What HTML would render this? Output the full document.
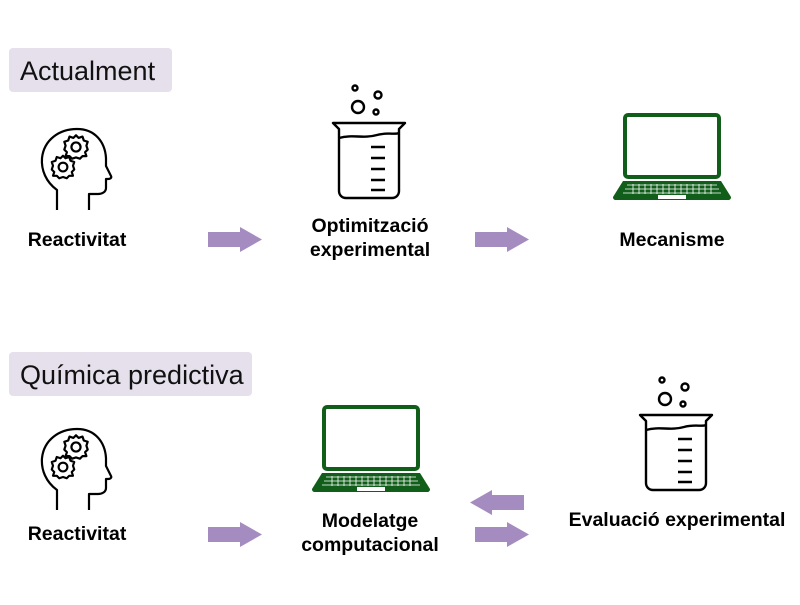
<!DOCTYPE html>
<html><head><style>
body{margin:0;background:#fff;}
svg text{font-family:"Liberation Sans",Arial,sans-serif;}
</style></head><body>
<svg width="800" height="600" viewBox="0 0 800 600" xmlns="http://www.w3.org/2000/svg">
<defs>
<path id="gear" d="M0-9 L2-7 5-8 6-5 9-4 8-1 9 2 7 4 8 7 5 7 3 9 0 8 -3 9 -5 7 -8 7 -7 4 -9 2 -8-1 -9-4 -6-5 -5-8 -2-7Z"/>
<g id="head" fill="none" stroke="#000" stroke-width="2.2" stroke-linejoin="round">
  <path d="M16 82 V62 C5 54 0 42 1 30 C3 12 18 1 36 1 C54 1 64 14 65 30 L65 38 L70 48 C71 50 69 51 67 51 L65 51 L65 60 C65 64 61 66 57 66 L48 66 L48 82"/>
  <g transform="translate(35,19) scale(1.3)" stroke-width="1.7"><circle r="3.5"/><use href="#gear"/></g>
  <g transform="translate(22,39) scale(1.25)" stroke-width="1.7"><circle r="3.5"/><use href="#gear"/></g>
</g>
<g id="beaker" fill="none" stroke="#000" stroke-width="2.4" stroke-linejoin="round">
  <circle cx="22" cy="5" r="2.5"/><circle cx="45" cy="12" r="3.5"/><circle cx="25" cy="24" r="6"/><circle cx="43" cy="29" r="2.5"/>
  <path d="M0 40 H72 L66 46 V108 C66 112 63 115 59 115 H13 C9 115 6 112 6 108 V46 Z"/>
  <path d="M6 55 C20 51 30 56 44 52 C55 49 62 52 66 50"/>
  <path d="M38 64 H52 M38 75 H52 M38 86 H52 M38 97 H52 M38 107 H52"/>
</g>
<g id="laptop">
  <rect x="12" y="2" width="94" height="62" rx="3" fill="none" stroke="#115e1a" stroke-width="4"/>
  <path d="M10 68 H108 L118 84 C118 86 117 87 115 87 H3 C1 87 0 86 0 84 Z" fill="#115e1a"/>
  <g stroke="#fff" stroke-width="0.8">
    <path d="M14 72 H104 M12 76 H106 M10 80 H108"/>
    <path d="M20 71 V81 M26 71 V81 M32 71 V81 M38 71 V81 M44 71 V81 M50 71 V81 M56 71 V81 M62 71 V81 M68 71 V81 M74 71 V81 M80 71 V81 M86 71 V81 M92 71 V81 M98 71 V81"/>
  </g>
  <rect x="45" y="82" width="28" height="4" fill="#fff"/>
</g>
<path id="arr" d="M0 5 H32 V0 L54 12.5 L32 25 V20 H0 Z" fill="#a58cc0"/>
</defs>

<rect x="9" y="48" width="163" height="44" rx="4" fill="#e6e0ec"/>
<text x="20" y="80" font-size="27" fill="#111">Actualment</text>
<rect x="9" y="352" width="243" height="44" rx="4" fill="#e6e0ec"/>
<text x="20" y="384" font-size="27" fill="#111">Química predictiva</text>

<use href="#head" x="41" y="128"/>
<use href="#beaker" x="333" y="83"/>
<use href="#laptop" x="613" y="113"/>

<g font-size="19.5" font-weight="bold" text-anchor="middle" fill="#000">
<text x="77" y="246">Reactivitat</text>
<text x="370" y="232">Optimització</text>
<text x="370" y="256">experimental</text>
<text x="672" y="246">Mecanisme</text>
<text x="77" y="540">Reactivitat</text>
<text x="370" y="527">Modelatge</text>
<text x="370" y="551">computacional</text>
<text x="677" y="526">Evaluació experimental</text>
</g>

<use href="#arr" x="208" y="227"/>
<use href="#arr" x="475" y="227"/>

<use href="#head" x="41" y="428"/>
<use href="#laptop" x="312" y="405"/>
<use href="#beaker" x="640" y="375"/>

<use href="#arr" x="208" y="522"/>
<use href="#arr" x="475" y="522"/>
<use href="#arr" transform="translate(524,490) scale(-1,1)"/>
</svg>
</body></html>
